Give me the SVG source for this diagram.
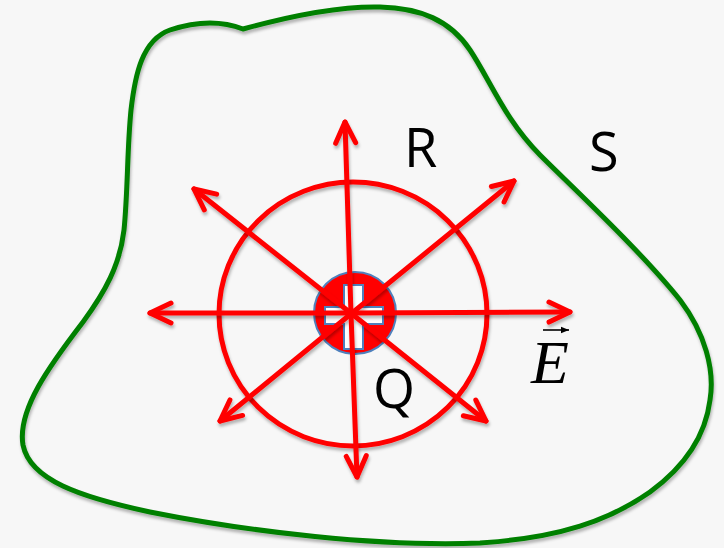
<svg xmlns="http://www.w3.org/2000/svg" width="724" height="548" viewBox="0 0 724 548">
  <defs>
    <filter id="shadow" x="-10%" y="-10%" width="120%" height="120%">
      <feDropShadow dx="1" dy="3" stdDeviation="1.5" flood-color="#000" flood-opacity="0.28"/>
    </filter>
    <marker id="chev" markerUnits="userSpaceOnUse" viewBox="-26 -15 30 30" markerWidth="30" markerHeight="30" refX="0" refY="0" orient="auto" overflow="visible">
      <path d="M -21 -10 L 0 0 L -21 10" fill="none" stroke="#ff0000" stroke-width="5" stroke-linecap="round" stroke-linejoin="round"/>
    </marker>
    <marker id="vec" markerUnits="userSpaceOnUse" viewBox="-8 -4 10 8" markerWidth="10" markerHeight="8" refX="0" refY="0" orient="auto" overflow="visible">
      <path d="M -8 -3.2 L 0 0 L -8 3.2 Z" fill="#000"/>
    </marker>
    <style>
      .ray { stroke: #ff0000; stroke-width: 5; stroke-linecap: round; fill: none; marker-end: url(#chev); }
      .lbl { font-family: "Open Sans", "Liberation Sans", sans-serif; font-size: 54px; fill: #000; }
    </style>
  </defs>

  <rect x="0" y="0" width="724" height="548" fill="#f7f7f7"/>

  <g id="surface-S" filter="url(#shadow)">
    <path d="M 243,29 C 290,16 340,6 380,7 C 420,8 450,20 470,50 C 490,80 505,120 540,155 C 570,185 640,250 680,300 C 705,333 715,370 710,400 C 705,440 680,470 650,492 C 610,520 560,538 480,543 C 380,547 250,532 150,512 C 80,497 30,480 23,445 C 17,410 50,365 83,322 C 105,292 120,265 124,230 C 128,190 127,150 131,110 C 135,75 142,40 170,30 C 200,20 225,22 243,29 Z" fill="none" stroke="#008000" stroke-width="5" stroke-linejoin="round"/>
  </g>

  <g id="sphere-R" filter="url(#shadow)">
    <ellipse cx="353" cy="314" rx="134" ry="132" fill="none" stroke="#ff0000" stroke-width="5"/>
  </g>

  <g id="charge-Q">
    <circle cx="355" cy="313" r="41" fill="#ff0000" stroke="#4f81bd" stroke-width="2"/>
    <polygon points="344,285 363,285 363,307 383,307 383,324 363,324 363,349 344,349 344,324 325,324 325,307 344,307" fill="#ffffff" stroke="#4f81bd" stroke-width="2"/>
  </g>

  <g id="field-lines" filter="url(#shadow)">
    <line class="ray" x1="351" y1="314" x2="345" y2="122"/>
    <line class="ray" x1="351" y1="314" x2="357" y2="477"/>
    <line class="ray" x1="352" y1="313" x2="150" y2="313"/>
    <line class="ray" x1="352" y1="313" x2="570" y2="312"/>
    <line class="ray" x1="352" y1="314" x2="194" y2="189"/>
    <line class="ray" x1="352" y1="314" x2="486" y2="421"/>
    <line class="ray" x1="352" y1="313" x2="514" y2="181"/>
    <line class="ray" x1="352" y1="313" x2="220" y2="421"/>
  </g>

  <g id="labels">
    <text class="lbl" x="404" y="167">R</text>
    <text class="lbl" x="589" y="171">S</text>
    <text class="lbl" x="373" y="408">Q</text>
    <g id="E-vector">
      <line x1="543" y1="330" x2="569" y2="330" stroke="#000" stroke-width="1.6" marker-end="url(#vec)"/>
      <text x="531" y="383" font-family="'Liberation Serif', 'Times New Roman', serif" font-style="italic" font-size="62" fill="#000">E</text>
    </g>
  </g>
</svg>
